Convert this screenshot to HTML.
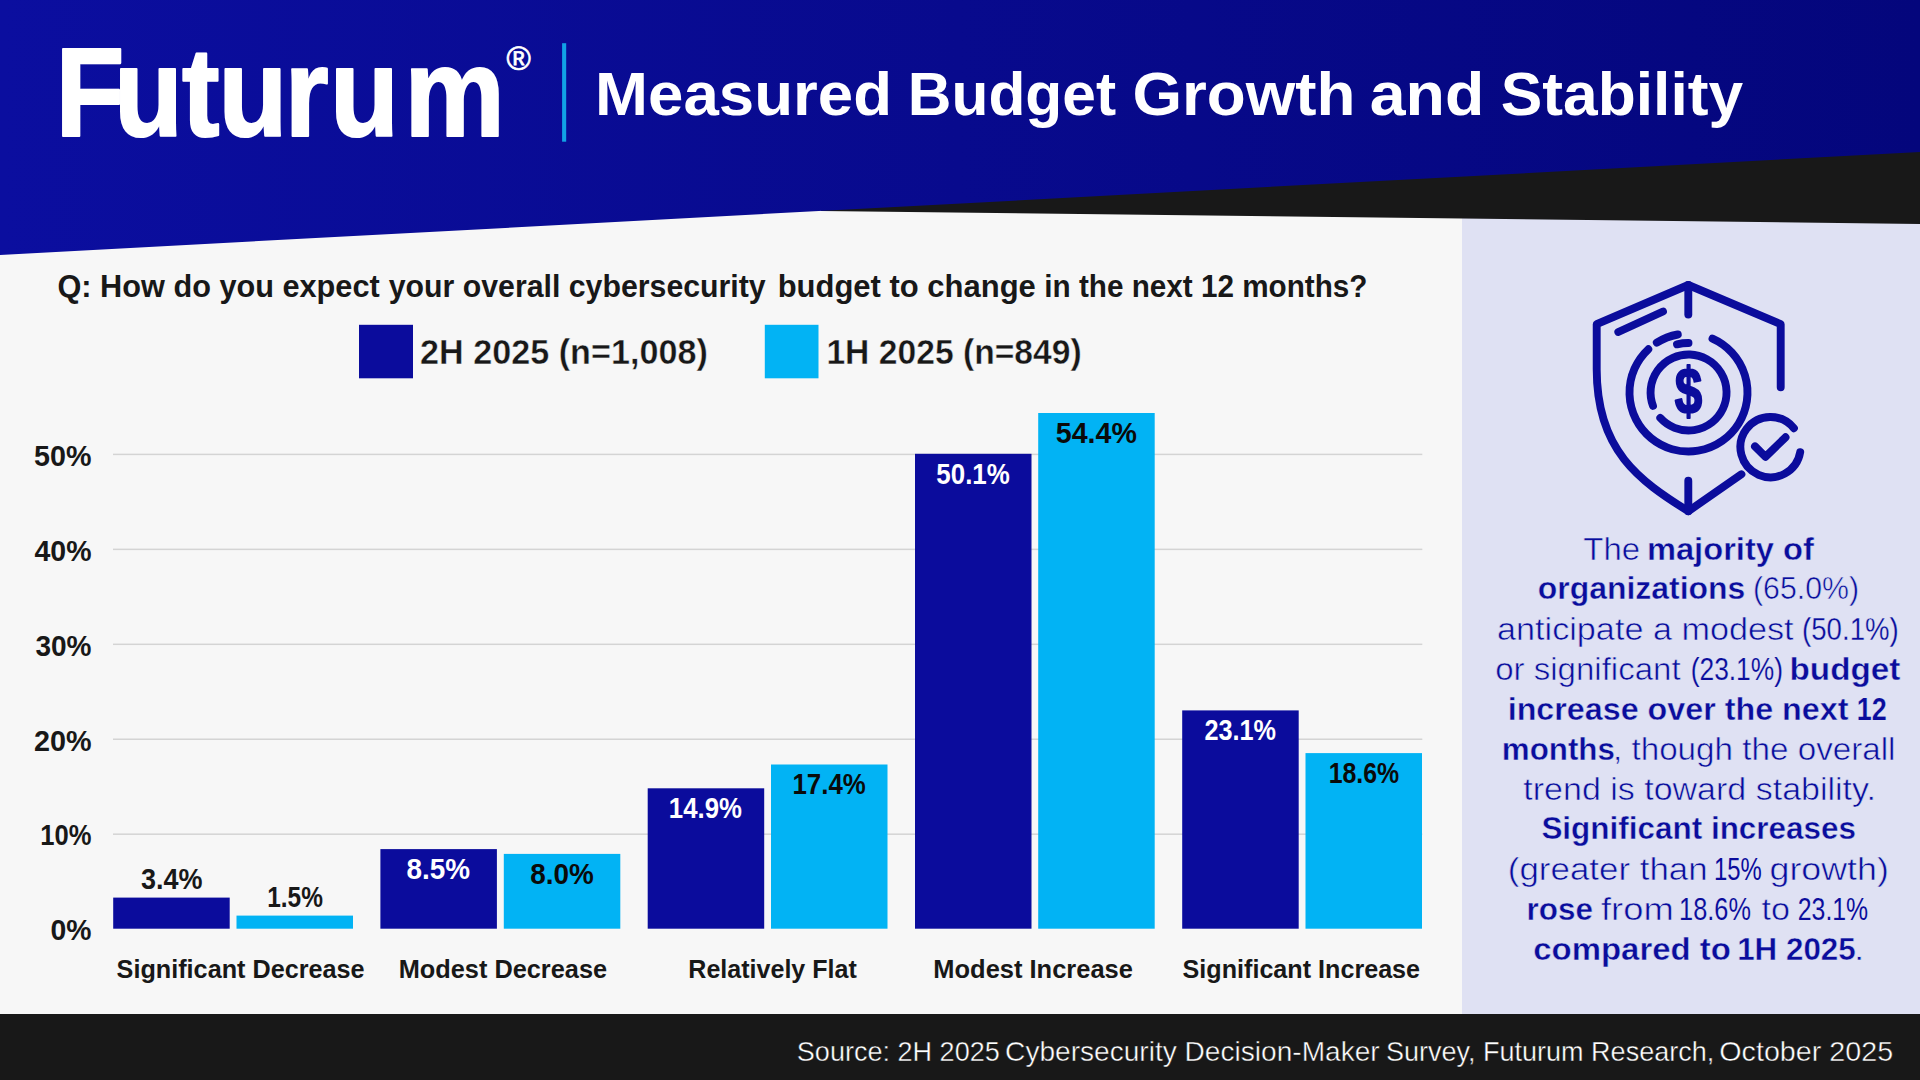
<!DOCTYPE html>
<html lang="en"><head><meta charset="utf-8"><title>Measured Budget Growth and Stability</title>
<style>
html,body{margin:0;padding:0;background:#f7f7f7;}
body{width:1920px;height:1080px;overflow:hidden;}
svg{display:block;font-family:"Liberation Sans", sans-serif;}
</style></head><body>
<svg width="1920" height="1080" viewBox="0 0 1920 1080">
<defs>
<linearGradient id="hg" gradientUnits="userSpaceOnUse" x1="0" y1="0" x2="1920" y2="0">
<stop offset="0" stop-color="#0b0e9f"/><stop offset="0.5" stop-color="#080a8d"/><stop offset="1" stop-color="#04067c"/>
</linearGradient>
</defs>
<rect x="0" y="0" width="1920" height="1080" fill="#f7f7f7"/>
<rect x="1462" y="200" width="458" height="816" fill="#dfe1f3"/>
<polygon points="821,211 1920,224 1920,100 821,100" fill="#181818"/>
<polygon points="0,0 1920,0 1920,152 0,255" fill="url(#hg)"/>
<rect x="0" y="1014" width="1920" height="66" fill="#181818"/>
<rect x="562.1" y="43.2" width="4.1" height="98.5" fill="#11a2e6"/>
<text transform="scale(0.895 1)" x="61.9 127.4 203.4 244.2 318.1 368.8 452.0" y="135.7" font-size="126" font-weight="bold" fill="#fff" stroke="#fff" stroke-width="2.2" stroke-linejoin="round">Futurum</text>
<text x="518.6" y="70.4" font-size="33" font-weight="normal" fill="#fff" stroke="#fff" stroke-width="0.7" text-anchor="middle">®</text>
<text y="114.75" font-size="62" font-weight="bold" fill="#fff"><tspan x="595.1" textLength="296.9" lengthAdjust="spacingAndGlyphs">Measured</tspan> <tspan x="907.8" textLength="208.3" lengthAdjust="spacingAndGlyphs">Budget</tspan> <tspan x="1132.4" textLength="223.1" lengthAdjust="spacingAndGlyphs">Growth</tspan> <tspan x="1369.8" textLength="114.5" lengthAdjust="spacingAndGlyphs">and</tspan> <tspan x="1500.8" textLength="242.3" lengthAdjust="spacingAndGlyphs">Stability</tspan></text>
<text y="297" font-size="31" font-weight="bold" fill="#181818"><tspan x="57.5" textLength="322.2" lengthAdjust="spacingAndGlyphs">Q: How do you expect</tspan> <tspan x="388.7" textLength="377.0" lengthAdjust="spacingAndGlyphs">your overall cybersecurity</tspan> <tspan x="777.7" textLength="258.1" lengthAdjust="spacingAndGlyphs">budget to change</tspan> <tspan x="1044.3" textLength="323.2" lengthAdjust="spacingAndGlyphs">in the next 12 months?</tspan></text>
<rect x="359" y="324.8" width="54" height="53.5" fill="#0b0c9c"/>
<rect x="764.8" y="324.8" width="53.7" height="53.5" fill="#02b3f4"/>
<text x="420.1" y="363.75" font-size="34.8" font-weight="bold" fill="#181818" textLength="287.7" lengthAdjust="spacingAndGlyphs" stroke="#f7f7f7" stroke-width="0.4">2H 2025 (n=1,008)</text>
<text x="826.4" y="363.75" font-size="34.8" font-weight="bold" fill="#181818" textLength="255.3" lengthAdjust="spacingAndGlyphs" stroke="#f7f7f7" stroke-width="0.4">1H 2025 (n=849)</text>
<text x="50.5" y="940.4" font-size="29" font-weight="bold" fill="#181818" textLength="41.0" lengthAdjust="spacingAndGlyphs">0%</text>
<rect x="113" y="833.45" width="1309.3" height="1.5" fill="#d4d4d4"/>
<text x="40.2" y="845.4" font-size="29" font-weight="bold" fill="#181818" textLength="51.2" lengthAdjust="spacingAndGlyphs">10%</text>
<rect x="113" y="738.50" width="1309.3" height="1.5" fill="#d4d4d4"/>
<text x="33.9" y="750.5" font-size="29" font-weight="bold" fill="#181818" textLength="57.6" lengthAdjust="spacingAndGlyphs">20%</text>
<rect x="113" y="643.55" width="1309.3" height="1.5" fill="#d4d4d4"/>
<text x="35.4" y="655.5" font-size="29" font-weight="bold" fill="#181818" textLength="56.1" lengthAdjust="spacingAndGlyphs">30%</text>
<rect x="113" y="548.60" width="1309.3" height="1.5" fill="#d4d4d4"/>
<text x="34.5" y="560.5" font-size="29" font-weight="bold" fill="#181818" textLength="57.0" lengthAdjust="spacingAndGlyphs">40%</text>
<rect x="113" y="453.65" width="1309.3" height="1.5" fill="#d4d4d4"/>
<text x="34.0" y="465.6" font-size="29" font-weight="bold" fill="#181818" textLength="57.4" lengthAdjust="spacingAndGlyphs">50%</text>
<rect x="113.2" y="897.6" width="116.5" height="31.1" fill="#0b0c9c"/>
<text x="141.0" y="889.1" font-size="29" font-weight="bold" fill="#181818" textLength="61.5" lengthAdjust="spacingAndGlyphs">3.4%</text>
<rect x="236.5" y="915.6" width="116.5" height="13.1" fill="#02b3f4"/>
<text x="267.2" y="907.1" font-size="29" font-weight="bold" fill="#181818" textLength="55.7" lengthAdjust="spacingAndGlyphs">1.5%</text>
<text x="116.6" y="978.4" font-size="26.5" font-weight="bold" fill="#181818" textLength="248.0" lengthAdjust="spacingAndGlyphs">Significant Decrease</text>
<rect x="380.4" y="849.1" width="116.5" height="79.6" fill="#0b0c9c"/>
<text x="406.5" y="878.9" font-size="29" font-weight="bold" fill="#fff" textLength="63.5" lengthAdjust="spacingAndGlyphs">8.5%</text>
<rect x="503.8" y="853.9" width="116.5" height="74.8" fill="#02b3f4"/>
<text x="530.2" y="883.7" font-size="29" font-weight="bold" fill="#0a0a0a" textLength="63.5" lengthAdjust="spacingAndGlyphs">8.0%</text>
<text x="398.7" y="978.4" font-size="26.5" font-weight="bold" fill="#181818" textLength="208.4" lengthAdjust="spacingAndGlyphs">Modest Decrease</text>
<rect x="647.7" y="788.3" width="116.5" height="140.4" fill="#0b0c9c"/>
<text x="668.8" y="818.1" font-size="29" font-weight="bold" fill="#fff" textLength="73.1" lengthAdjust="spacingAndGlyphs">14.9%</text>
<rect x="771.0" y="764.5" width="116.5" height="164.2" fill="#02b3f4"/>
<text x="792.5" y="794.3" font-size="29" font-weight="bold" fill="#0a0a0a" textLength="73.2" lengthAdjust="spacingAndGlyphs">17.4%</text>
<text x="688.3" y="978.4" font-size="26.5" font-weight="bold" fill="#181818" textLength="168.5" lengthAdjust="spacingAndGlyphs">Relatively Flat</text>
<rect x="915.0" y="453.8" width="116.5" height="474.9" fill="#0b0c9c"/>
<text x="936.3" y="483.6" font-size="29" font-weight="bold" fill="#fff" textLength="73.5" lengthAdjust="spacingAndGlyphs">50.1%</text>
<rect x="1038.2" y="413.0" width="116.5" height="515.7" fill="#02b3f4"/>
<text x="1055.8" y="442.8" font-size="29" font-weight="bold" fill="#0a0a0a" textLength="81.1" lengthAdjust="spacingAndGlyphs">54.4%</text>
<text x="933.3" y="978.4" font-size="26.5" font-weight="bold" fill="#181818" textLength="199.6" lengthAdjust="spacingAndGlyphs">Modest Increase</text>
<rect x="1182.2" y="710.4" width="116.5" height="218.3" fill="#0b0c9c"/>
<text x="1204.4" y="740.2" font-size="29" font-weight="bold" fill="#fff" textLength="71.6" lengthAdjust="spacingAndGlyphs">23.1%</text>
<rect x="1305.5" y="753.1" width="116.5" height="175.6" fill="#02b3f4"/>
<text x="1328.7" y="782.9" font-size="29" font-weight="bold" fill="#0a0a0a" textLength="70.5" lengthAdjust="spacingAndGlyphs">18.6%</text>
<text x="1182.6" y="978.4" font-size="26.5" font-weight="bold" fill="#181818" textLength="237.5" lengthAdjust="spacingAndGlyphs">Significant Increase</text>
<text y="559.7" font-size="31" font-weight="normal" fill="#0b0c9c" stroke="#dfe1f3" stroke-width="0.55"><tspan x="1583.3" textLength="56.8" lengthAdjust="spacingAndGlyphs">The</tspan> <tspan x="1646.9" font-weight="bold" stroke-width="0.4" textLength="167.0" lengthAdjust="spacingAndGlyphs">majority of</tspan></text>
<text y="599.4" font-size="31" font-weight="normal" fill="#0b0c9c" stroke="#dfe1f3" stroke-width="0.55"><tspan x="1537.7" font-weight="bold" stroke-width="0.4" textLength="207.7" lengthAdjust="spacingAndGlyphs">organizations</tspan> <tspan x="1753.0" stroke-width="0.54" textLength="106.0" lengthAdjust="spacingAndGlyphs">(65.0%)</tspan></text>
<text y="639.6" font-size="31" font-weight="normal" fill="#0b0c9c" stroke="#dfe1f3" stroke-width="0.55"><tspan x="1497.0" textLength="296.6" lengthAdjust="spacingAndGlyphs">anticipate a modest</tspan> <tspan x="1802.1" stroke-width="0.3" textLength="96.6" lengthAdjust="spacingAndGlyphs">(50.1%)</tspan></text>
<text y="679.6" font-size="31" font-weight="normal" fill="#0b0c9c" stroke="#dfe1f3" stroke-width="0.55"><tspan x="1495.2" textLength="185.4" lengthAdjust="spacingAndGlyphs">or significant</tspan> <tspan x="1690.7" stroke-width="0.19" textLength="92.3" lengthAdjust="spacingAndGlyphs">(23.1%)</tspan> <tspan x="1789.5" font-weight="bold" stroke-width="0.4" textLength="110.9" lengthAdjust="spacingAndGlyphs">budget</tspan></text>
<text y="719.8" font-size="31" font-weight="normal" fill="#0b0c9c" stroke="#dfe1f3" stroke-width="0.55"><tspan x="1507.7" font-weight="bold" stroke-width="0.4" textLength="340.7" lengthAdjust="spacingAndGlyphs">increase over the next</tspan> <tspan x="1856.7" font-weight="bold" stroke-width="0.18" textLength="29.9" lengthAdjust="spacingAndGlyphs">12</tspan></text>
<text y="760" font-size="31" font-weight="normal" fill="#0b0c9c" stroke="#dfe1f3" stroke-width="0.55"><tspan x="1501.8" font-weight="bold" stroke-width="0.4" textLength="113.1" lengthAdjust="spacingAndGlyphs">months</tspan><tspan x="1613.0" textLength="282.5" lengthAdjust="spacingAndGlyphs">, though the overall</tspan></text>
<text y="799.7" font-size="31" font-weight="normal" fill="#0b0c9c" stroke="#dfe1f3" stroke-width="0.55"><tspan x="1523.3" textLength="352.7" lengthAdjust="spacingAndGlyphs">trend is toward stability.</tspan></text>
<text y="839.4" font-size="31" font-weight="normal" fill="#0b0c9c" stroke="#dfe1f3" stroke-width="0.55"><tspan x="1541.4" font-weight="bold" stroke-width="0.4" textLength="314.7" lengthAdjust="spacingAndGlyphs">Significant increases</tspan></text>
<text y="879.6" font-size="31" font-weight="normal" fill="#0b0c9c" stroke="#dfe1f3" stroke-width="0.55"><tspan x="1507.8" textLength="199.9" lengthAdjust="spacingAndGlyphs">(greater than</tspan> <tspan x="1713.9" stroke-width="0.0" textLength="47.8" lengthAdjust="spacingAndGlyphs">15%</tspan> <tspan x="1769.5" textLength="119.3" lengthAdjust="spacingAndGlyphs">growth)</tspan></text>
<text y="919.6" font-size="31" font-weight="normal" fill="#0b0c9c" stroke="#dfe1f3" stroke-width="0.55"><tspan x="1526.6" font-weight="bold" stroke-width="0.4" textLength="66.4" lengthAdjust="spacingAndGlyphs">rose</tspan> <tspan x="1601.0" textLength="72.8" lengthAdjust="spacingAndGlyphs">from</tspan> <tspan x="1679.1" stroke-width="0.1" textLength="71.8" lengthAdjust="spacingAndGlyphs">18.6%</tspan> <tspan x="1761.5" textLength="28.5" lengthAdjust="spacingAndGlyphs">to</tspan> <tspan x="1797.8" stroke-width="0.06" textLength="70.4" lengthAdjust="spacingAndGlyphs">23.1%</tspan></text>
<text y="959.8" font-size="31" font-weight="normal" fill="#0b0c9c" stroke="#dfe1f3" stroke-width="0.55"><tspan x="1533.3" font-weight="bold" stroke-width="0.4" textLength="197.6" lengthAdjust="spacingAndGlyphs">compared to</tspan> <tspan x="1737.2" font-weight="bold" stroke-width="0.4" textLength="118.5" lengthAdjust="spacingAndGlyphs">1H 2025</tspan><tspan x="1853.9" textLength="10.3" lengthAdjust="spacingAndGlyphs">.</tspan></text>
<text y="1060.6" font-size="28" font-weight="normal" fill="#fff" stroke="#181818" stroke-width="0.45"><tspan x="796.8" stroke-width="0.42" textLength="203.0" lengthAdjust="spacingAndGlyphs">Source: 2H 2025</tspan> <tspan x="1005.1" textLength="374.6" lengthAdjust="spacingAndGlyphs">Cybersecurity Decision-Maker</tspan> <tspan x="1386.0" stroke-width="0.41" textLength="328.2" lengthAdjust="spacingAndGlyphs">Survey, Futurum Research,</tspan> <tspan x="1719.3" textLength="173.8" lengthAdjust="spacingAndGlyphs">October 2025</tspan></text>
<g fill="none" stroke="#0b0c9c" stroke-width="7.9" stroke-linecap="round" stroke-linejoin="round">
<path d="M1780.7,387.3 L1780.7,324.2 L1688.3,285 L1596.7,324.2 L1596.7,369.3 C1596.7,450.9 1639.4,480.5 1688.3,511.2 L1741.4,474.3"/>
<path d="M1688.3,285 L1688.3,314.5"/>
<path d="M1688.3,480.8 L1688.3,511.2"/>
<path d="M1618.3,332 L1663,311.5"/>
<path d="M1712.5,338.6 A59,59 0 1 1 1648.3,349.3"/>
<path d="M1656.8,342.7 A59,59 0 0 1 1677.8,334.5"/>
<path d="M1677.0,344.3 A49.5,49.5 0 0 1 1688.5,343.0"/>
<path d="M1653.0,405.9 A38,38 0 1 1 1660.3,417.9"/>
<path d="M1800.2,452.2 A30.1,30.1 0 1 1 1793.9,428.2"/>
<path d="M1755,446.4 L1765.4,456.8 L1785.5,437.3"/>
</g>
<text x="1688.5" y="413" font-size="64" font-weight="bold" fill="#0b0c9c" stroke="#0b0c9c" stroke-width="2" stroke-linejoin="round" text-anchor="middle" transform="translate(1688.5 0) scale(0.77 1) translate(-1688.5 0)">$</text>
</svg></body></html>
